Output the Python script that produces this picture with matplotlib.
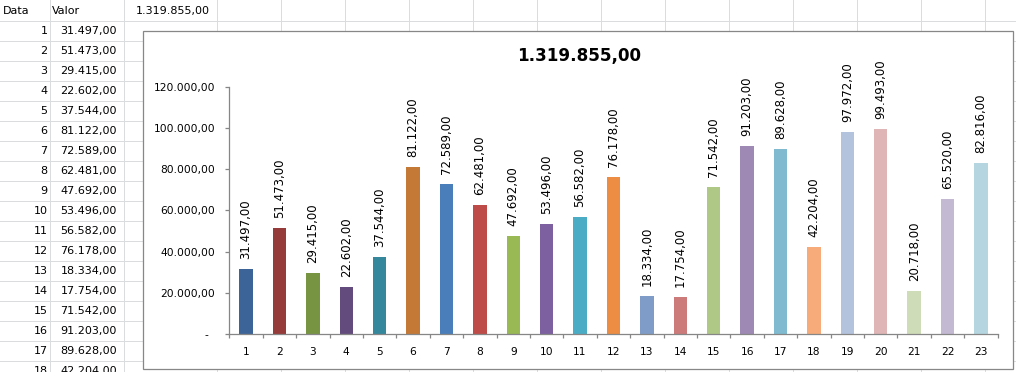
"""Excel-style sheet with a daily values bar chart."""
import matplotlib

matplotlib.use("Agg")
import matplotlib.pyplot as plt
from matplotlib.patches import Rectangle
from matplotlib.ticker import FixedLocator, FuncFormatter

# data
dias = list(range(1, 24))
valores = [
    31497, 51473, 29415, 22602, 37544, 81122, 72589, 62481, 47692, 53496,
    56582, 76178, 18334, 17754, 71542, 91203, 89628, 42204, 97972, 99493,
    20718, 65520, 82816,
]
yticks = [0, 20000, 40000, 60000, 80000, 100000, 120000]
cabecalho = ["Data", "Valor"]
linhas_visiveis = 18  # sheet rows that show in the window

# Excel 2010 "vary colors by point" palette
cores = [
    "#3c6498", "#953b39", "#779443", "#634c7d", "#35879c", "#c47a36",
    "#4a7ebb", "#be4b48", "#98b954", "#7d60a0", "#4bacc6", "#ec8d43",
    "#7f9cc8", "#cc7b7a", "#b0c886", "#9d89b4", "#7fbad0", "#f7ab7a",
    "#b4c3dd", "#e0b5b5", "#cfdcb8", "#c4b9d3", "#b5d5e0",
]


def br(v):
    """Brazilian number format: 1.234,56"""
    s = f"{v:,.2f}"
    return s.replace(",", "X").replace(".", ",").replace("X", ".")


W, H = 1016, 372
fig = plt.figure(figsize=(W / 100, H / 100), dpi=100)

# sheet background in pixel coordinates
bg = fig.add_axes([0, 0, 1, 1])
bg.set_xlim(0, W)
bg.set_ylim(H, 0)
bg.axis("off")

grid = "#dadcdd"
for k in range(19):
    bg.plot([0, W], [20.5 + 20 * k] * 2, color=grid, lw=0.72)
colx = [50, 124] + [217.3 + 64 * k for k in range(13)]
for x in colx:
    bg.plot([x, x], [0, H], color=grid, lw=0.72)

fs_sheet = 8
bg.text(3, 11, cabecalho[0], fontsize=fs_sheet, va="center")
bg.text(52, 11, cabecalho[1], fontsize=fs_sheet, va="center")
total = sum(valores)
bg.text(210, 11, br(total), fontsize=fs_sheet, va="center", ha="right")
for i, (d, v) in enumerate(zip(dias[:linhas_visiveis], valores)):
    y = 31 + 20 * i
    bg.text(47.5, y, str(d), fontsize=fs_sheet, va="center", ha="right")
    bg.text(117, y, br(v), fontsize=fs_sheet, va="center", ha="right")

# chart frame
bg.add_patch(
    Rectangle((142.5, 30.5), 870, 338, facecolor="white", edgecolor="#878787",
              lw=0.9, zorder=5)
)
bg.text(579.5, 56, br(total), fontsize=12.1, fontweight="bold",
        ha="center", va="center", zorder=6)

# plot area
x0, x1, y0, y1 = 229.3, 997.7, 334, 86.7
ax = fig.add_axes([x0 / W, (H - y0) / H, (x1 - x0) / W, (y0 - y1) / H])
ax.patch.set_alpha(0)
bars = ax.bar(dias, valores, width=0.4, color=cores)
ax.bar_label(bars, labels=[br(v) for v in valores], rotation=90,
             padding=7.2, fontsize=8.5)

ax.set_xlim(0.5, 23.5)
ax.set_ylim(0, 120000)
for s in ("top", "right"):
    ax.spines[s].set_visible(False)
for s in ("left", "bottom"):
    ax.spines[s].set_color("#868686")
    ax.spines[s].set_linewidth(0.9)

ax.xaxis.set_major_locator(FixedLocator([d - 0.5 for d in dias] + [23.5]))
ax.xaxis.set_minor_locator(FixedLocator(dias))
ax.xaxis.set_major_formatter(FuncFormatter(lambda v, p: ""))
ax.xaxis.set_minor_formatter(FuncFormatter(lambda v, p: f"{v:.0f}"))
ax.tick_params(axis="x", which="major", length=3, width=0.9, color="#868686")
ax.tick_params(axis="x", which="minor", length=0, pad=9.5, labelsize=7.7)

ax.set_yticks(yticks)
ax.yaxis.set_major_formatter(
    FuncFormatter(lambda v, p: "-  " if v == 0 else br(v))
)
ax.tick_params(axis="y", length=3, width=0.9, color="#868686", pad=7.2,
               labelsize=7.7)

fig.savefig("out.png", dpi=100)
